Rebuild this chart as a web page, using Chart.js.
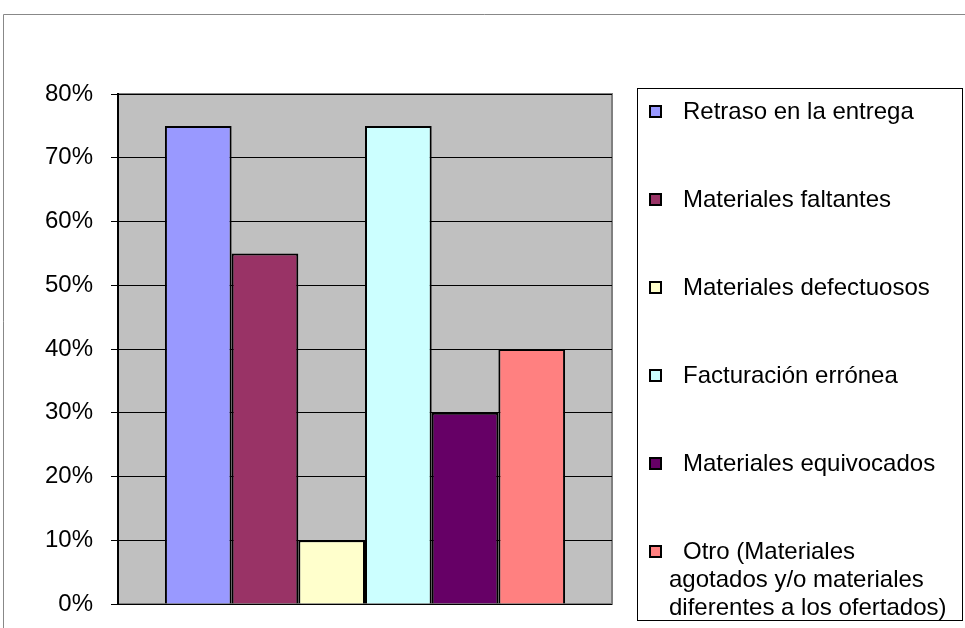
<!DOCTYPE html>
<html>
<head>
<meta charset="utf-8">
<script src="https://cdn.jsdelivr.net/npm/chart.js@4"></script>
<style>
  html, body { margin: 0; padding: 0; background: #fff; }
  #wrap { position: relative; width: 965px; height: 628px; }
</style>
</head>
<body>
<div id="wrap"><canvas id="chart" width="965" height="628"></canvas></div>
<script>
const categories = [""];
const seriesLabels = [
  "Retraso en la entrega",
  "Materiales faltantes",
  "Materiales defectuosos",
  "Facturación errónea",
  "Materiales equivocados",
  ["Otro (Materiales", "agotados y/o materiales", "diferentes a los ofertados)"],
];
const seriesValues = [75, 55, 10, 75, 30, 40];
const seriesColors = ["#9999FF", "#993366", "#FFFFCC", "#CCFFFF", "#660066", "#FF8080"];
const yTicks = [0, 10, 20, 30, 40, 50, 60, 70, 80];

const FONT = "Liberation Sans, Arial, sans-serif";

// gray plot background + outer frame
const backdrop = {
  id: "backdrop",
  beforeDraw(chart) {
    const { ctx, chartArea: a } = chart;
    ctx.save();
    ctx.strokeStyle = "#888";
    ctx.lineWidth = 1;
    ctx.beginPath();
    ctx.moveTo(3.5, 628);
    ctx.lineTo(3.5, 14.5);
    ctx.lineTo(965, 14.5);
    ctx.stroke();
    ctx.fillStyle = "#C0C0C0";
    ctx.fillRect(a.left, a.top, a.right - a.left, a.bottom - a.top);
    ctx.strokeStyle = "#808080";
    ctx.lineWidth = 2;
    ctx.strokeRect(a.left, a.top, a.right - a.left, a.bottom - a.top);
    ctx.restore();
  },
};

// boxed legend on the right, like the original
const boxLegend = {
  id: "boxLegend",
  afterDraw(chart) {
    const { ctx } = chart;
    const x0 = 637, y0 = 88, x1 = 962, y1 = 620;
    ctx.save();
    ctx.fillStyle = "#fff";
    ctx.fillRect(x0, y0, x1 - x0, y1 - y0);
    ctx.strokeStyle = "#000";
    ctx.lineWidth = 1;
    ctx.strokeRect(x0 + 0.5, y0 + 0.5, x1 - x0, y1 - y0);
    ctx.font = "24px " + FONT;
    ctx.textBaseline = "middle";
    chart.data.datasets.forEach((ds, i) => {
      const cy = 111 + i * 88;
      ctx.fillStyle = ds.backgroundColor;
      ctx.fillRect(650, cy - 5, 11, 11);
      ctx.strokeStyle = "#000";
      ctx.lineWidth = 2;
      ctx.strokeRect(650, cy - 5, 11, 11);
      ctx.fillStyle = "#000";
      const lines = Array.isArray(ds.label) ? ds.label : [ds.label];
      lines.forEach((t, j) => {
        ctx.fillText(t, j === 0 ? 683 : 669, cy + 1 + j * 28);
      });
    });
    ctx.restore();
  },
};

new Chart(document.getElementById("chart"), {
  type: "bar",
  data: {
    labels: categories,
    datasets: seriesValues.map((v, i) => ({
      label: seriesLabels[i],
      data: [v],
      backgroundColor: seriesColors[i],
      borderColor: "#000",
      borderWidth: 2,
    })),
  },
  options: {
    responsive: false,
    animation: false,
    devicePixelRatio: 1,
    categoryPercentage: 0.81,
    barPercentage: 1,
    layout: { padding: { left: 0, top: 94, right: 353, bottom: 24 } },
    plugins: {
      legend: { display: false },
      tooltip: { enabled: false },
    },
    scales: {
      x: { display: false },
      y: {
        min: 0,
        max: 80,
        afterFit(scale) {
          scale.width = 118;
          scale.paddingTop = 0;
          scale.paddingBottom = 0;
        },
        afterBuildTicks(scale) { scale.ticks = yTicks.map((v) => ({ value: v })); },
        ticks: {
          padding: 18,
          color: "#000",
          font: { family: FONT, size: 24 },
          callback: (v) => v + "%",
        },
        grid: { color: "#000", lineWidth: 1, tickLength: 7, drawOnChartArea: true },
        border: { color: "#000", width: 2 },
      },
    },
  },
  plugins: [backdrop, boxLegend],
});
</script>
</body>
</html>
